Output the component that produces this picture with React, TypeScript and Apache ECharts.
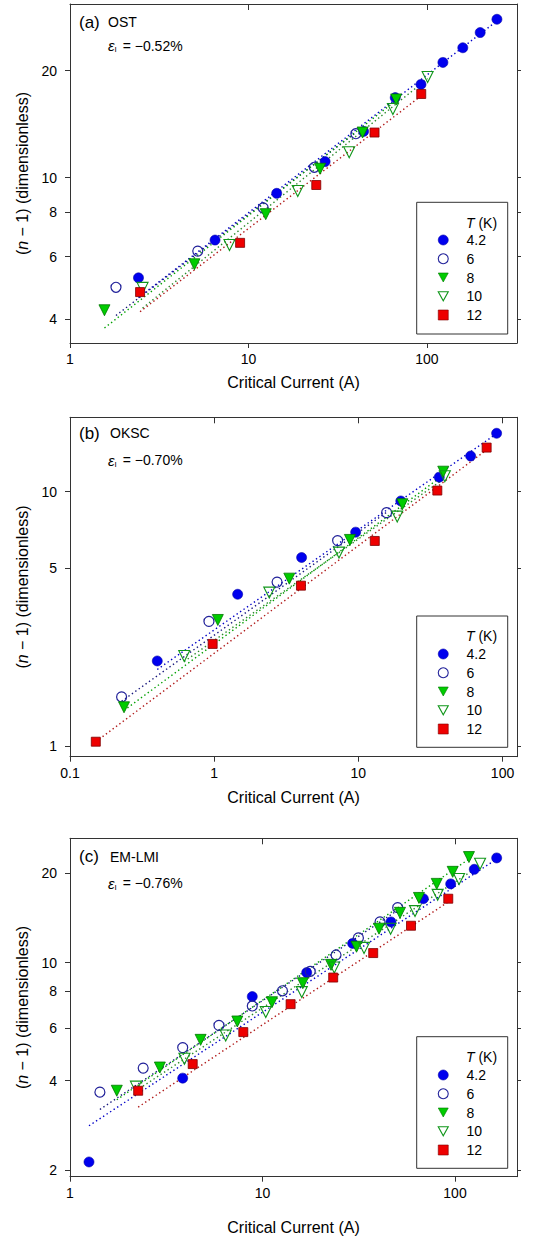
import React, { useEffect, useRef } from "react";
import * as echarts from "echarts";

type P = [number, number];

// ---------- data ----------
const TEMPS = ["4.2", "6", "8", "10", "12"];

// Panel (a) OST
const A_T42: P[] = [[2.42, 5.23], [6.5, 6.68], [14.4, 9.04], [26.9, 11.1], [44.2, 13.5], [66.5, 16.8], [92.7, 18.3], [123, 21.1], [159, 23.2], [199, 25.6], [247, 27.9]];
const A_T6: P[] = [[1.81, 4.92], [5.2, 6.22], [12.1, 8.23], [23.4, 10.7], [40, 13.3]];
const A_T8: P[] = [[1.56, 4.24], [4.98, 5.71], [12.5, 7.9], [25.2, 10.6], [43.6, 13.4], [67.3, 16.6]];
const A_T10: P[] = [[2.55, 4.9], [7.83, 6.47], [18.9, 9.18], [36.7, 11.8], [64.5, 15.6], [101, 19.2]];
const A_T12: P[] = [[2.47, 4.77], [8.98, 6.56], [24, 9.54], [50.9, 13.4], [93, 17.2]];
const A_FIT42: P[] = [[2.42, 4.6], [247, 27.6]];
const A_FIT6: P[] = [[1.81, 4.1], [40, 13.4]];
const A_FIT8: P[] = [[1.56, 3.78], [67.3, 16.5]];
const A_FIT10: P[] = [[2.55, 4.3], [101, 19.0]];
const A_FIT12: P[] = [[2.47, 4.2], [93, 17.0]];

// Panel (b) OKSC
const B_T42: P[] = [[0.403, 2.16], [1.455, 3.95], [4.04, 5.51], [9.58, 6.93], [19.7, 9.19], [36.4, 11.4], [60.1, 13.8], [91, 16.96]];
const B_T6: P[] = [[0.228, 1.56], [0.92, 3.09], [2.73, 4.41], [7.18, 6.42], [15.7, 8.27]];
const B_T8: P[] = [[0.237, 1.42], [1.06, 3.13], [3.32, 4.55], [8.74, 6.46], [20.2, 8.92], [38.8, 11.98]];
const B_T10: P[] = [[0.62, 2.26], [2.41, 4.01], [7.34, 5.76], [18.6, 7.98], [39.8, 11.5]];
const B_T12: P[] = [[0.151, 1.04], [0.976, 2.52], [4.0, 4.27], [13.0, 6.4], [35.3, 10.1], [77.6, 14.9]];
const B_FIT42: P[] = [[0.403, 2.0], [91, 16.9]];
const B_FIT6: P[] = [[0.228, 1.5], [15.7, 8.3]];
const B_FIT8: P[] = [[0.237, 1.38], [38.8, 11.6]];
const B_FIT10: P[] = [[0.62, 2.15], [39.8, 11.3]];
const B_FIT12: P[] = [[0.151, 1.04], [77.6, 14.6]];

// Panel (c) EM-LMI
const C_T42: P[] = [[1.255, 2.13], [3.85, 4.08], [8.85, 7.68], [16.97, 9.25], [29.4, 11.6], [46.5, 13.7], [68.5, 16.4], [95, 18.4], [126, 20.6], [164.7, 22.5]];
const C_T6: P[] = [[1.43, 3.66], [2.4, 4.41], [3.85, 5.17], [5.94, 6.14], [8.85, 7.14], [12.7, 8.03], [17.7, 9.33], [24.1, 10.6], [31.5, 12.1], [40.8, 13.7], [50.4, 15.3]];
const C_T8: P[] = [[1.75, 3.7], [2.93, 4.43], [4.77, 5.49], [7.4, 6.33], [11.2, 7.35], [16.2, 8.52], [22.7, 9.82], [30.8, 11.3], [40.3, 13.0], [51.8, 14.7], [65, 16.5], [80.4, 18.4], [97.3, 20.2], [118.2, 22.65]];
const C_T10: P[] = [[2.2, 3.82], [3.93, 4.74], [6.44, 5.68], [10.4, 6.81], [16.0, 7.95], [23.6, 9.62], [33.7, 11.2], [46.3, 13.0], [62, 14.9], [81.3, 16.9], [105, 19.1], [135, 21.5]];
const C_T12: P[] = [[2.26, 3.7], [4.34, 4.55], [7.95, 5.83], [14.0, 7.24], [23.3, 8.9], [37.6, 10.76], [59.1, 13.3], [92.3, 16.4]];
const C_FIT42: P[] = [[1.255, 2.82], [164.7, 22.3]];
const C_FIT6: P[] = [[1.43, 3.2], [50.4, 15.0]];
const C_FIT8: P[] = [[1.75, 3.45], [118.2, 22.3]];
const C_FIT10: P[] = [[2.2, 3.7], [135, 21.2]];
const C_FIT12: P[] = [[2.26, 3.26], [92.3, 16.0]];

// axes
const X_RANGE_A = [1, 320];
const Y_RANGE_A = [3.43, 30.8];
const X_RANGE_B = [0.1, 126];
const Y_RANGE_B = [0.908, 19.6];
const X_RANGE_C = [1, 210];
const Y_RANGE_C = [1.9, 26.2];
const X_TICKS_A = [1, 10, 100];
const Y_TICKS_A = [4, 6, 8, 10, 20];
const X_TICKS_B = [0.1, 1, 10, 100];
const Y_TICKS_B = [1, 5, 10];
const X_TICKS_C = [1, 10, 100];
const Y_TICKS_C = [2, 4, 6, 8, 10, 20];

const PANEL_TAGS = ["(a)", "(b)", "(c)"];
const PANEL_NAMES = ["OST", "OKSC", "EM-LMI"];
const PANEL_STRAINS = ["−0.52%", "−0.70%", "−0.76%"];
const X_TITLE = "Critical Current (A)";
const Y_TITLE = "({n|n} − 1) (dimensionless)";

// ---------- styles ----------
const FONT = '"Liberation Sans", Arial, Helvetica, sans-serif';
const AXIS_COLOR = "#333";
const DOWN_TRIANGLE = "path://M0,0 L10,0 L5,9 Z";
const STYLES = [
  { symbol: "circle", legendIcon: "circle", size: 10, rotate: 0, fill: "#0000ee", stroke: "#0000a8", bw: 0.6, line: "#0000c8" },
  { symbol: "circle", legendIcon: "circle", size: 10, rotate: 0, fill: "rgba(255,255,255,0)", stroke: "#22229a", bw: 1.2, line: "#18187e" },
  { symbol: "triangle", legendIcon: DOWN_TRIANGLE, size: 11, rotate: 180, fill: "#00cc00", stroke: "#007700", bw: 0.8, line: "#00a000" },
  { symbol: "triangle", legendIcon: DOWN_TRIANGLE, size: 11, rotate: 180, fill: "rgba(255,255,255,0)", stroke: "#10961a", bw: 1.1, line: "#2a8a2a" },
  { symbol: "rect", legendIcon: "rect", size: 9, rotate: 0, fill: "#ee0000", stroke: "#800000", bw: 0.8, line: "#b01818" },
];

const LAYOUT = [
  { top: 4, height: 339, xGap: 31, tagY: 22.3, strainY: 45.7, boxY: 202.3, boxH: 131.7, headY: 223.3, legTop: 233 },
  { top: 417.3, height: 339.4, xGap: 33, tagY: 433.3, strainY: 460, boxY: 616, boxH: 131.3, headY: 636, legTop: 647 },
  { top: 838.3, height: 338.4, xGap: 43, tagY: 856.7, strainY: 883.3, boxY: 1036.7, boxH: 131.6, headY: 1056.7, legTop: 1068 },
];
const GRID_LEFT = 70;
const GRID_WIDTH = 447;

const PANELS = [
  { pts: [A_T42, A_T6, A_T8, A_T10, A_T12], fits: [A_FIT42, A_FIT6, A_FIT8, A_FIT10, A_FIT12], xr: X_RANGE_A, yr: Y_RANGE_A, xt: X_TICKS_A, yt: Y_TICKS_A },
  { pts: [B_T42, B_T6, B_T8, B_T10, B_T12], fits: [B_FIT42, B_FIT6, B_FIT8, B_FIT10, B_FIT12], xr: X_RANGE_B, yr: Y_RANGE_B, xt: X_TICKS_B, yt: Y_TICKS_B },
  { pts: [C_T42, C_T6, C_T8, C_T10, C_T12], fits: [C_FIT42, C_FIT6, C_FIT8, C_FIT10, C_FIT12], xr: X_RANGE_C, yr: Y_RANGE_C, xt: X_TICKS_C, yt: Y_TICKS_C },
];

function buildOption() {
  const grid: any[] = [];
  const xAxis: any[] = [];
  const yAxis: any[] = [];
  const series: any[] = [];
  const legend: any[] = [];
  const graphic: any[] = [];
  const fmt = (v: number) => String(v);

  PANELS.forEach((p, k) => {
    const L = LAYOUT[k];
    grid.push({ left: GRID_LEFT, top: L.top, width: GRID_WIDTH, height: L.height, show: false, containLabel: false });
    xAxis.push({
      type: "log", gridIndex: k, position: "bottom", min: p.xr[0], max: p.xr[1],
      name: X_TITLE, nameLocation: "middle", nameGap: L.xGap,
      nameTextStyle: { fontSize: 16, color: "#000", fontFamily: FONT },
      axisLine: { show: true, onZero: false, lineStyle: { color: AXIS_COLOR, width: 1 } },
      axisTick: { show: true, inside: false, length: 5, customValues: p.xt, lineStyle: { color: AXIS_COLOR } },
      axisLabel: { show: true, customValues: p.xt, formatter: fmt, margin: 9, fontSize: 14, color: "#000", fontFamily: FONT },
      splitLine: { show: false }, minorTick: { show: false },
    });
    xAxis.push({
      type: "log", gridIndex: k, position: "top", min: p.xr[0], max: p.xr[1],
      axisLine: { show: true, onZero: false, lineStyle: { color: AXIS_COLOR, width: 1 } },
      axisTick: { show: true, inside: true, length: 6, customValues: p.xt, lineStyle: { color: AXIS_COLOR } },
      axisLabel: { show: false },
      splitLine: { show: false },
    });
    yAxis.push({
      type: "log", gridIndex: k, position: "left", min: p.yr[0], max: p.yr[1],
      name: Y_TITLE, nameLocation: "middle", nameGap: 40,
      nameTextStyle: { fontSize: 16, color: "#000", fontFamily: FONT, rich: { n: { fontStyle: "italic", fontSize: 16, color: "#000", fontFamily: FONT } } },
      axisLine: { show: true, onZero: false, lineStyle: { color: AXIS_COLOR, width: 1 } },
      axisTick: { show: true, inside: false, length: 5, customValues: p.yt, lineStyle: { color: AXIS_COLOR } },
      axisLabel: { show: true, customValues: p.yt, formatter: fmt, margin: 13, fontSize: 14, color: "#000", fontFamily: FONT },
      splitLine: { show: false }, minorTick: { show: false },
    });
    yAxis.push({
      type: "log", gridIndex: k, position: "right", min: p.yr[0], max: p.yr[1],
      axisLine: { show: true, onZero: false, lineStyle: { color: AXIS_COLOR, width: 1 } },
      axisTick: { show: true, inside: false, length: 4, customValues: p.yt, lineStyle: { color: AXIS_COLOR } },
      axisLabel: { show: false },
      splitLine: { show: false },
    });

    p.fits.forEach((f, i) => {
      series.push({
        type: "line", xAxisIndex: k * 2, yAxisIndex: k * 2, data: f,
        symbol: "none", silent: true, z: 1,
        lineStyle: { color: STYLES[i].line, width: 1.4, type: [1.4, 2.8], cap: "butt" },
      });
    });
    p.pts.forEach((d, i) => {
      const s = STYLES[i];
      series.push({
        type: "scatter", name: TEMPS[i], xAxisIndex: k * 2, yAxisIndex: k * 2, data: d,
        symbol: s.symbol, symbolSize: s.size, symbolRotate: s.rotate, symbolKeepAspect: true, z: 3,
        itemStyle: { color: s.fill, borderColor: s.stroke, borderWidth: s.bw, opacity: 1 },
      });
    });

    legend.push({
      orient: "vertical", left: 442.7 - 5, top: L.legTop, padding: 0,
      itemWidth: 10, itemHeight: 10, itemGap: 4.75, selectedMode: false,
      symbolKeepAspect: true,
      data: TEMPS.map((t, i) => ({
        name: t,
        icon: STYLES[i].legendIcon,
        itemStyle: { color: STYLES[i].fill, borderColor: STYLES[i].stroke, borderWidth: i === 1 || i === 3 ? 1.1 : 0.6 },
      })),
      textStyle: { fontSize: 14, lineHeight: 14, color: "#000", fontFamily: FONT, padding: [0, 0, 0, 13.3] },
    });

    graphic.push({
      type: "rect", shape: { x: 416.7, y: L.boxY, width: 91, height: L.boxH },
      style: { fill: "none", stroke: AXIS_COLOR, lineWidth: 1 }, z: 5, silent: true,
    });
    graphic.push({
      type: "text", x: 466, y: L.headY, z: 5, silent: true,
      style: {
        text: "{t|T} (K)", fill: "#000", font: `14px ${FONT}`, verticalAlign: "middle", align: "left",
        rich: { t: { fontStyle: "italic", fontSize: 14, fontFamily: FONT, fill: "#000" } },
      },
    });
    graphic.push({
      type: "text", x: 79, y: L.tagY, z: 5, silent: true,
      style: { text: PANEL_TAGS[k], fill: "#000", font: `17px ${FONT}`, verticalAlign: "middle", align: "left" },
    });
    graphic.push({
      type: "text", x: k === 0 ? 108 : 110, y: L.tagY, z: 5, silent: true,
      style: { text: PANEL_NAMES[k], fill: "#000", font: `14px ${FONT}`, verticalAlign: "middle", align: "left" },
    });
    graphic.push({
      type: "text", x: 108, y: L.strainY, z: 5, silent: true,
      style: {
        text: `{e|ε}{s|I} = ${PANEL_STRAINS[k]}`, fill: "#000", font: `14px ${FONT}`, verticalAlign: "middle", align: "left",
        rich: {
          e: { fontStyle: "italic", fontSize: 15, fontFamily: FONT, fill: "#000", lineHeight: 16 },
          s: { fontSize: 8, fontFamily: FONT, fill: "#000", verticalAlign: "bottom", lineHeight: 8, padding: [0, 2, 0, 0] },
        },
      },
    });
  });

  return {
    animation: false,
    backgroundColor: "#ffffff",
    textStyle: { fontFamily: FONT },
    grid, xAxis, yAxis, series, legend, graphic,
  };
}

export default function App() {
  const ref = useRef<HTMLDivElement>(null);
  useEffect(() => {
    if (!ref.current) return;
    const chart = echarts.init(ref.current, undefined, { renderer: "svg" });
    chart.setOption(buildOption() as any);
    return () => chart.dispose();
  }, []);
  return <div ref={ref} style={{ position: "absolute", left: 0, top: 0, width: 550, height: 1241 }} />;
}
